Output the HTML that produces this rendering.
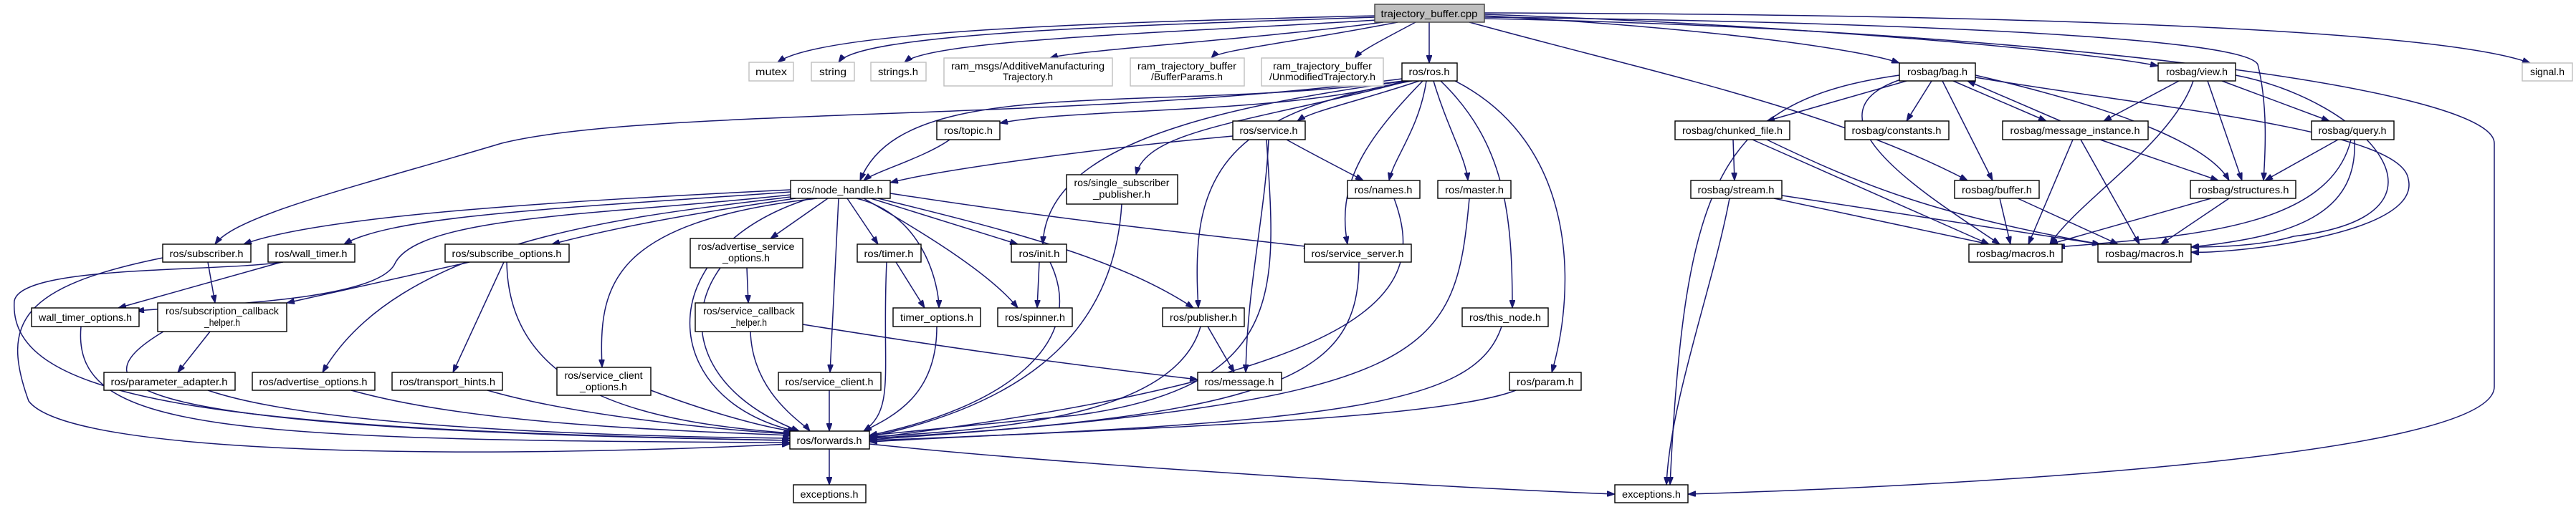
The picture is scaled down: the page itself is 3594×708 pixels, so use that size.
<!DOCTYPE html>
<html><head><meta charset="utf-8"><style>
html,body{margin:0;padding:0;background:#fff;}
svg{display:block;}
text{font-family:"Liberation Sans",sans-serif;font-size:14px;fill:#000;}
.n{fill:#fff;stroke:#000;stroke-width:1.4;}
.g{fill:#fff;stroke:#bfbfbf;stroke-width:1.4;}
.e{fill:none;stroke:#191970;stroke-width:1.5;}
</style></head><body>
<svg width="3594" height="708" viewBox="0 0 3594 708" xmlns="http://www.w3.org/2000/svg">
<defs><marker id="a" markerWidth="11" markerHeight="8" refX="11" refY="4" orient="auto" markerUnits="userSpaceOnUse"><path d="M0,0 L11,4 L0,8 z" fill="#191970" stroke="#191970"/></marker></defs>
<g class="e" marker-end="url(#a)">
<path d="M1918,22 C1600,30 1150,40 1085,87"/>
<path d="M1918,24 C1600,35 1200,45 1170,87"/>
<path d="M1920,28 C1650,45 1300,55 1262,87"/>
<path d="M1930,31 C1750,55 1500,70 1465,81"/>
<path d="M1950,31 C1800,60 1700,70 1690,81"/>
<path d="M1975,31 C1930,55 1900,70 1890,81"/>
<path d="M1994,31 L1994,88"/>
<path d="M2071,22 C2400,40 2600,70 2650,88"/>
<path d="M2071,20 C2500,35 2900,70 3011,92"/>
<path d="M2071,18 C2800,20 3400,40 3530,88"/>
<path d="M2071,24 C2600,30 3130,50 3150,90 C3165,150 3160,220 3158,252"/>
<path d="M2050,31 C2300,100 2550,150 2745,252"/>
<path d="M2071,26 C2800,40 3480,120 3480,200 L3480,540 C3480,640 2700,680 2355,690"/>
<path d="M1960,113 C1800,160 1500,150 1395,172"/>
<path d="M1980,113 C1900,140 1830,155 1810,169"/>
<path d="M1958,113 C1600,160 1260,100 1200,252"/>
<path d="M1956,110 C1500,170 900,150 700,200 C500,260 330,300 300,341"/>
<path d="M1965,113 C1750,170 1600,180 1585,244"/>
<path d="M1960,113 C1700,150 1460,200 1455,341"/>
<path d="M1970,113 C1700,160 1660,250 1672,430"/>
<path d="M1990,113 C1980,180 1945,220 1938,252"/>
<path d="M2000,113 C2020,180 2045,220 2048,252"/>
<path d="M1985,113 C1900,200 1865,260 1880,341"/>
<path d="M2010,113 C2100,200 2110,300 2110,430"/>
<path d="M2030,113 C2200,200 2200,400 2165,520"/>
<path d="M1325,195 C1290,220 1220,240 1205,252"/>
<path d="M1720,190 C1500,210 1300,240 1242,255"/>
<path d="M1795,195 C1840,220 1880,240 1902,252"/>
<path d="M1770,195 C1765,300 1740,400 1738,520"/>
<path d="M1767,195 C1780,400 1800,540 1500,580 C1300,600 1230,606 1213,608"/>
<path d="M1565,285 C1555,450 1450,560 1213,610"/>
<path d="M1945,277 C1990,400 1950,520 1213,612"/>
<path d="M2050,277 C2030,500 2000,560 1213,614"/>
<path d="M1896,366 C1896,520 1800,580 1213,612"/>
<path d="M2095,456 C2060,560 1900,590 1213,615"/>
<path d="M2115,545 C2000,590 1500,600 1213,617"/>
<path d="M1675,456 C1640,580 1400,600 1213,610"/>
<path d="M1685,456 L1722,520"/>
<path d="M1450,366 L1447,430"/>
<path d="M1465,366 C1520,480 1400,570 1213,608"/>
<path d="M1250,366 L1290,430"/>
<path d="M1237,366 C1230,520 1250,570 1205,602"/>
<path d="M1307,456 C1307,550 1250,580 1205,602"/>
<path d="M1120,453 C1350,490 1500,510 1671,530"/>
<path d="M1047,463 C1050,550 1120,590 1130,602"/>
<path d="M1157,545 L1157,602"/>
<path d="M908,545 C1000,580 1080,600 1110,602"/>
<path d="M1042,374 L1044,423"/>
<path d="M1005,374 C950,450 980,550 1115,602"/>
<path d="M680,545 C800,580 1000,600 1104,606"/>
<path d="M490,545 C650,590 900,600 1104,608"/>
<path d="M290,545 C450,600 900,610 1103,612"/>
<path d="M293,463 L248,520"/>
<path d="M228,463 C100,540 150,600 1102,615"/>
<path d="M113,456 C100,600 300,615 1102,618"/>
<path d="M655,366 L400,423"/>
<path d="M703,366 L632,520"/>
<path d="M707,366 C710,550 900,590 1105,605"/>
<path d="M393,366 L165,430"/>
<path d="M395,366 C300,380 30,370 20,420 C10,560 300,600 1102,615"/>
<path d="M290,366 L300,423"/>
<path d="M227,360 C30,400 0,450 40,560 C100,640 700,640 1102,620"/>
<path d="M1103,265 C800,280 450,300 340,341"/>
<path d="M1103,268 C800,290 550,300 480,341"/>
<path d="M1110,277 C950,300 850,320 770,341"/>
<path d="M1155,277 L1075,333"/>
<path d="M1182,277 L1225,341"/>
<path d="M1215,277 L1420,341"/>
<path d="M1242,270 C1500,310 1700,330 1830,345"/>
<path d="M1225,277 C1400,320 1560,360 1665,430"/>
<path d="M1205,277 C1280,320 1380,380 1420,430"/>
<path d="M1195,277 C1290,300 1310,400 1310,430"/>
<path d="M1103,272 C850,300 580,300 550,370 C520,420 300,425 190,434"/>
<path d="M1103,275 C900,300 560,330 450,520"/>
<path d="M1140,277 C850,310 835,400 840,513"/>
<path d="M1170,277 L1158,520"/>
<path d="M1130,277 C900,350 920,560 1110,602"/>
<path d="M1157,627 L1157,677"/>
<path d="M1213,620 C1500,650 2000,680 2253,690"/>
<path d="M2660,113 L2465,169"/>
<path d="M2695,113 L2660,169"/>
<path d="M2725,113 L2855,169"/>
<path d="M2710,113 L2780,252"/>
<path d="M2756,105 C2950,150 3080,200 3110,252"/>
<path d="M2650,105 C2400,140 2350,250 2330,677"/>
<path d="M2655,110 C2500,160 2700,280 2790,341"/>
<path d="M2756,108 C3000,150 3350,180 3360,250 C3380,330 3100,355 3057,352"/>
<path d="M3040,113 L2935,169"/>
<path d="M3100,113 L3250,169"/>
<path d="M3080,113 L3128,252"/>
<path d="M3060,113 C3030,200 2900,280 2860,341"/>
<path d="M3119,105 C3300,140 3450,300 3200,330 C3150,345 3080,345 3057,345"/>
<path d="M2930,195 L3095,252"/>
<path d="M2892,195 L2830,341"/>
<path d="M2903,195 L2985,341"/>
<path d="M2875,169 L2745,113"/>
<path d="M3262,195 L3160,252"/>
<path d="M3280,195 C3250,320 3050,330 2870,345"/>
<path d="M3285,195 C3290,300 3200,330 3057,345"/>
<path d="M2418,195 L2420,252"/>
<path d="M2445,195 L2775,341"/>
<path d="M2465,195 C2600,260 2700,300 2930,341"/>
<path d="M2475,277 L2775,341"/>
<path d="M2486,273 L2930,341"/>
<path d="M2413,277 C2390,400 2330,560 2325,677"/>
<path d="M2790,277 L2805,341"/>
<path d="M2815,277 L2955,341"/>
<path d="M3085,277 L2860,341"/>
<path d="M3110,277 L3015,341"/>
</g>
<!-- nodes -->
<rect x="1918" y="6" width="153" height="25" fill="#bfbfbf" stroke="#404040" stroke-width="1.4"/>
<text x="1994" y="24" text-anchor="middle" textLength="135" lengthAdjust="spacingAndGlyphs">trajectory_buffer.cpp</text>
<g>
<rect class="g" x="1045" y="87" width="62" height="26"/><text x="1076" y="105" text-anchor="middle" textLength="44" lengthAdjust="spacingAndGlyphs">mutex</text>
<rect class="g" x="1132" y="87" width="60" height="26"/><text x="1162" y="105" text-anchor="middle" textLength="38" lengthAdjust="spacingAndGlyphs">string</text>
<rect class="g" x="1215" y="87" width="77" height="26"/><text x="1253" y="105" text-anchor="middle" textLength="56" lengthAdjust="spacingAndGlyphs">strings.h</text>
<rect class="g" x="1317" y="81" width="235" height="39"/><text x="1434" y="97" text-anchor="middle" textLength="214" lengthAdjust="spacingAndGlyphs">ram_msgs/AdditiveManufacturing</text><text x="1434" y="112" text-anchor="middle" textLength="70" lengthAdjust="spacingAndGlyphs">Trajectory.h</text>
<rect class="g" x="1577" y="81" width="159" height="39"/><text x="1656" y="97" text-anchor="middle" textLength="138" lengthAdjust="spacingAndGlyphs">ram_trajectory_buffer</text><text x="1656" y="112" text-anchor="middle" textLength="100" lengthAdjust="spacingAndGlyphs">/BufferParams.h</text>
<rect class="g" x="1760" y="81" width="170" height="39"/><text x="1845" y="97" text-anchor="middle" textLength="138" lengthAdjust="spacingAndGlyphs">ram_trajectory_buffer</text><text x="1845" y="112" text-anchor="middle" textLength="148" lengthAdjust="spacingAndGlyphs">/UnmodifiedTrajectory.h</text>
<rect class="g" x="3519" y="88" width="70" height="25"/><text x="3554" y="105" text-anchor="middle" textLength="48" lengthAdjust="spacingAndGlyphs">signal.h</text>
</g>
<g>
<rect class="n" x="1956" y="88" width="77" height="25"/><text x="1994" y="105" text-anchor="middle" textLength="57" lengthAdjust="spacingAndGlyphs">ros/ros.h</text>
<rect class="n" x="2650" y="88" width="106" height="25"/><text x="2703" y="105" text-anchor="middle" textLength="84" lengthAdjust="spacingAndGlyphs">rosbag/bag.h</text>
<rect class="n" x="3011" y="88" width="108" height="25"/><text x="3065" y="105" text-anchor="middle" textLength="86" lengthAdjust="spacingAndGlyphs">rosbag/view.h</text>
<rect class="n" x="1307" y="169" width="88" height="26"/><text x="1351" y="187" text-anchor="middle" textLength="68" lengthAdjust="spacingAndGlyphs">ros/topic.h</text>
<rect class="n" x="1720" y="169" width="101" height="26"/><text x="1770" y="187" text-anchor="middle" textLength="81" lengthAdjust="spacingAndGlyphs">ros/service.h</text>
<rect class="n" x="2337" y="169" width="160" height="26"/><text x="2417" y="187" text-anchor="middle" textLength="140" lengthAdjust="spacingAndGlyphs">rosbag/chunked_file.h</text>
<rect class="n" x="2574" y="169" width="145" height="26"/><text x="2646" y="187" text-anchor="middle" textLength="125" lengthAdjust="spacingAndGlyphs">rosbag/constants.h</text>
<rect class="n" x="2794" y="169" width="203" height="26"/><text x="2895" y="187" text-anchor="middle" textLength="181" lengthAdjust="spacingAndGlyphs">rosbag/message_instance.h</text>
<rect class="n" x="3225" y="169" width="115" height="26"/><text x="3282" y="187" text-anchor="middle" textLength="95" lengthAdjust="spacingAndGlyphs">rosbag/query.h</text>
<rect class="n" x="1488" y="244" width="155" height="41"/><text x="1565" y="260" text-anchor="middle" textLength="133" lengthAdjust="spacingAndGlyphs">ros/single_subscriber</text><text x="1565" y="276" text-anchor="middle" textLength="80" lengthAdjust="spacingAndGlyphs">_publisher.h</text>
<rect class="n" x="1103" y="252" width="139" height="25"/><text x="1172" y="270" text-anchor="middle" textLength="119" lengthAdjust="spacingAndGlyphs">ros/node_handle.h</text>
<rect class="n" x="1880" y="252" width="101" height="25"/><text x="1930" y="270" text-anchor="middle" textLength="81" lengthAdjust="spacingAndGlyphs">ros/names.h</text>
<rect class="n" x="2006" y="252" width="102" height="25"/><text x="2057" y="270" text-anchor="middle" textLength="82" lengthAdjust="spacingAndGlyphs">ros/master.h</text>
<rect class="n" x="2359" y="252" width="127" height="25"/><text x="2422" y="270" text-anchor="middle" textLength="107" lengthAdjust="spacingAndGlyphs">rosbag/stream.h</text>
<rect class="n" x="2727" y="252" width="118" height="25"/><text x="2786" y="270" text-anchor="middle" textLength="98" lengthAdjust="spacingAndGlyphs">rosbag/buffer.h</text>
<rect class="n" x="3056" y="252" width="147" height="25"/><text x="3130" y="270" text-anchor="middle" textLength="127" lengthAdjust="spacingAndGlyphs">rosbag/structures.h</text>
<rect class="n" x="227" y="341" width="123" height="25"/><text x="288" y="359" text-anchor="middle" textLength="103" lengthAdjust="spacingAndGlyphs">ros/subscriber.h</text>
<rect class="n" x="374" y="341" width="121" height="25"/><text x="434" y="359" text-anchor="middle" textLength="101" lengthAdjust="spacingAndGlyphs">ros/wall_timer.h</text>
<rect class="n" x="621" y="341" width="173" height="25"/><text x="707" y="359" text-anchor="middle" textLength="153" lengthAdjust="spacingAndGlyphs">ros/subscribe_options.h</text>
<rect class="n" x="963" y="333" width="157" height="41"/><text x="1041" y="349" text-anchor="middle" textLength="135" lengthAdjust="spacingAndGlyphs">ros/advertise_service</text><text x="1041" y="365" text-anchor="middle" textLength="66" lengthAdjust="spacingAndGlyphs">_options.h</text>
<rect class="n" x="1196" y="341" width="89" height="25"/><text x="1240" y="359" text-anchor="middle" textLength="69" lengthAdjust="spacingAndGlyphs">ros/timer.h</text>
<rect class="n" x="1411" y="341" width="77" height="25"/><text x="1450" y="359" text-anchor="middle" textLength="57" lengthAdjust="spacingAndGlyphs">ros/init.h</text>
<rect class="n" x="1820" y="341" width="149" height="25"/><text x="1894" y="359" text-anchor="middle" textLength="129" lengthAdjust="spacingAndGlyphs">ros/service_server.h</text>
<rect class="n" x="2747" y="341" width="130" height="25"/><text x="2812" y="359" text-anchor="middle" textLength="110" lengthAdjust="spacingAndGlyphs">rosbag/macros.h</text>
<rect class="n" x="2927" y="341" width="130" height="25"/><text x="2992" y="359" text-anchor="middle" textLength="110" lengthAdjust="spacingAndGlyphs">rosbag/macros.h</text>
<rect class="n" x="44" y="430" width="150" height="26"/><text x="119" y="448" text-anchor="middle" textLength="130" lengthAdjust="spacingAndGlyphs">wall_timer_options.h</text>
<rect class="n" x="220" y="423" width="180" height="40"/><text x="310" y="439" text-anchor="middle" textLength="158" lengthAdjust="spacingAndGlyphs">ros/subscription_callback</text><text x="310" y="455" text-anchor="middle" textLength="50" lengthAdjust="spacingAndGlyphs">_helper.h</text>
<rect class="n" x="970" y="423" width="150" height="40"/><text x="1045" y="439" text-anchor="middle" textLength="128" lengthAdjust="spacingAndGlyphs">ros/service_callback</text><text x="1045" y="455" text-anchor="middle" textLength="50" lengthAdjust="spacingAndGlyphs">_helper.h</text>
<rect class="n" x="1246" y="430" width="122" height="26"/><text x="1307" y="448" text-anchor="middle" textLength="102" lengthAdjust="spacingAndGlyphs">timer_options.h</text>
<rect class="n" x="1392" y="430" width="104" height="26"/><text x="1444" y="448" text-anchor="middle" textLength="84" lengthAdjust="spacingAndGlyphs">ros/spinner.h</text>
<rect class="n" x="1622" y="430" width="114" height="26"/><text x="1679" y="448" text-anchor="middle" textLength="94" lengthAdjust="spacingAndGlyphs">ros/publisher.h</text>
<rect class="n" x="2040" y="430" width="120" height="26"/><text x="2100" y="448" text-anchor="middle" textLength="100" lengthAdjust="spacingAndGlyphs">ros/this_node.h</text>
<rect class="n" x="145" y="520" width="183" height="25"/><text x="236" y="538" text-anchor="middle" textLength="163" lengthAdjust="spacingAndGlyphs">ros/parameter_adapter.h</text>
<rect class="n" x="352" y="520" width="171" height="25"/><text x="437" y="538" text-anchor="middle" textLength="151" lengthAdjust="spacingAndGlyphs">ros/advertise_options.h</text>
<rect class="n" x="547" y="520" width="154" height="25"/><text x="624" y="538" text-anchor="middle" textLength="134" lengthAdjust="spacingAndGlyphs">ros/transport_hints.h</text>
<rect class="n" x="777" y="513" width="131" height="39"/><text x="842" y="529" text-anchor="middle" textLength="109" lengthAdjust="spacingAndGlyphs">ros/service_client</text><text x="842" y="545" text-anchor="middle" textLength="66" lengthAdjust="spacingAndGlyphs">_options.h</text>
<rect class="n" x="1086" y="520" width="143" height="25"/><text x="1157" y="538" text-anchor="middle" textLength="123" lengthAdjust="spacingAndGlyphs">ros/service_client.h</text>
<rect class="n" x="1671" y="520" width="117" height="25"/><text x="1729" y="538" text-anchor="middle" textLength="97" lengthAdjust="spacingAndGlyphs">ros/message.h</text>
<rect class="n" x="2106" y="520" width="100" height="25"/><text x="2156" y="538" text-anchor="middle" textLength="80" lengthAdjust="spacingAndGlyphs">ros/param.h</text>
<rect class="n" x="1102" y="602" width="111" height="25"/><text x="1157" y="620" text-anchor="middle" textLength="91" lengthAdjust="spacingAndGlyphs">ros/forwards.h</text>
<rect class="n" x="1107" y="677" width="101" height="25"/><text x="1157" y="695" text-anchor="middle" textLength="81" lengthAdjust="spacingAndGlyphs">exceptions.h</text>
<rect class="n" x="2253" y="677" width="102" height="25"/><text x="2304" y="695" text-anchor="middle" textLength="82" lengthAdjust="spacingAndGlyphs">exceptions.h</text>
</g>
</svg>
</body></html>
